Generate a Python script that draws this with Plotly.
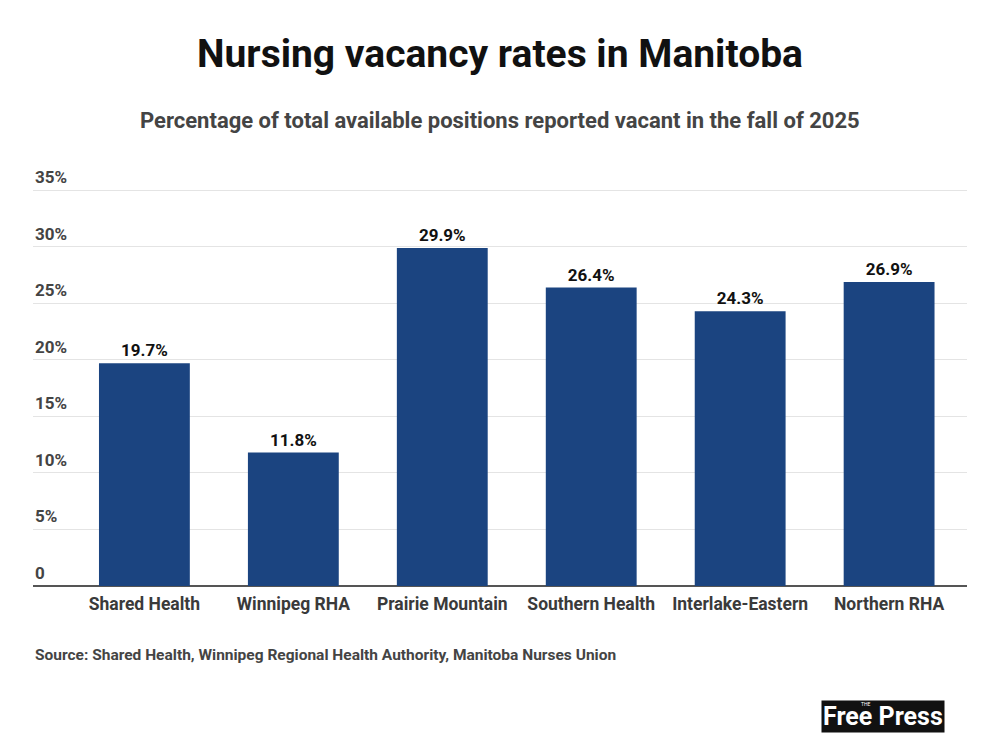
import plotly.graph_objects as go

regions = ["Shared Health", "Winnipeg RHA", "Prairie Mountain",
           "Southern Health", "Interlake-Eastern", "Northern RHA"]
vacancy = [19.7, 11.8, 29.9, 26.4, 24.3, 26.9]
y_ticks = [0, 5, 10, 15, 20, 25, 30, 35]
y_tick_labels = ["0", "5%", "10%", "15%", "20%", "25%", "30%", "35%"]

bar_color = "#1b4480"
font = "Roboto"

fig = go.Figure()
fig.add_trace(go.Bar(
    x=list(range(len(regions))),
    y=vacancy,
    marker=dict(color=bar_color, line_width=0),
    width=0.61,
    text=[f"{v:.1f}%" for v in vacancy],
    textposition="outside",
    textfont=dict(family=font, size=17, color="#111111", weight="bold"),
    cliponaxis=False,
    hoverinfo="skip",
))

fig.update_xaxes(
    tickmode="array",
    tickvals=list(range(len(regions))),
    ticktext=regions,
    range=[-0.748, 5.523],
    showgrid=False,
    showline=False,
    zeroline=False,
    ticks="",
    ticklabelstandoff=5,
    tickfont=dict(family=font, size=17.5, color="#3a3a3a", weight="bold"),
)
fig.update_yaxes(
    range=[0, 35.3],
    tickmode="array",
    tickvals=y_ticks,
    showticklabels=False,
    showgrid=True,
    gridcolor="#e4e4e4",
    gridwidth=1,
    zeroline=True,
    zerolinecolor="#555555",
    zerolinewidth=2,
    showline=False,
)

# y tick labels sit on top of their gridlines
for v, lab in zip(y_ticks, y_tick_labels):
    fig.add_annotation(
        text=f"<b>{lab}</b>",
        xref="paper", yref="y", x=0, y=v,
        xanchor="left", yanchor="bottom",
        yshift=1, showarrow=False,
        font=dict(family=font, size=17, color="#444444"),
    )

fig.add_annotation(
    text="<b>Nursing vacancy rates in Manitoba</b>",
    xref="paper", yref="paper", x=0.5, y=1,
    xanchor="center", yanchor="middle",
    yshift=133, showarrow=False,
    font=dict(family=font, size=39, color="#111111"),
)
fig.add_annotation(
    text="<b>Percentage of total available positions reported vacant in the fall of 2025</b>",
    xref="paper", yref="paper", x=0.5, y=1,
    xanchor="center", yanchor="middle",
    yshift=67, showarrow=False,
    font=dict(family=font, size=22, color="#444444"),
)
fig.add_annotation(
    text="<b>Source: Shared Health, Winnipeg Regional Health Authority, Manitoba Nurses Union</b>",
    xref="paper", yref="paper", x=0, y=0,
    xanchor="left", yanchor="middle",
    yshift=-69, showarrow=False,
    font=dict(family=font, size=15.5, color="#444444"),
)
fig.add_annotation(
    text="<b>Free Press</b>",
    xref="paper", yref="paper", x=0.976, y=0,
    xanchor="right", yanchor="middle",
    yshift=-130, showarrow=False,
    bgcolor="#111111", borderpad=1,
    font=dict(family=font, size=25, color="white"),
)
fig.add_annotation(
    text="THE",
    xref="paper", yref="paper", x=0.884, y=0,
    xanchor="left", yanchor="middle",
    yshift=-118, showarrow=False,
    font=dict(family=font, size=5, color="white"),
)

# the page adds an 8px body margin, so the figure is sized to fit the window
fig.update_layout(
    width=992, height=744,
    margin=dict(l=25, r=33, t=179, b=166),
    plot_bgcolor="white",
    paper_bgcolor="white",
    showlegend=False,
    bargap=0.39,
)

fig.write_html("out.html")
